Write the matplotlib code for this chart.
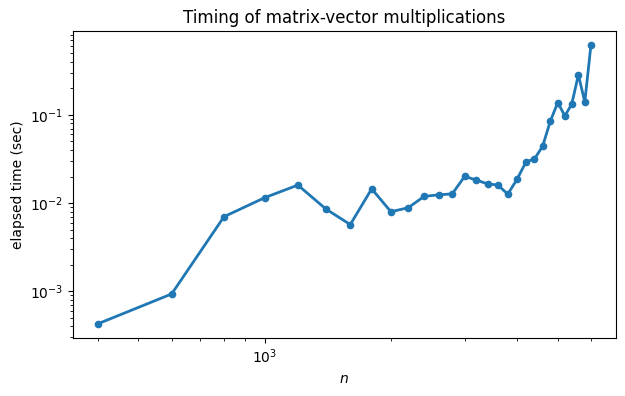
import numpy as np
import matplotlib
matplotlib.use("Agg")
import matplotlib.pyplot as plt

n = list(range(400, 6001, 200))
t = [4.26e-4, 9.3e-4, 7.0e-3, 1.15e-2, 1.6e-2, 8.55e-3, 5.7e-3,
     1.45e-2, 7.97e-3, 8.85e-3, 1.19e-2, 1.24e-2, 1.27e-2, 2.01e-2,
     1.82e-2, 1.65e-2, 1.6e-2, 1.26e-2, 1.87e-2, 2.93e-2, 3.17e-2,
     4.4e-2, 8.5e-2, 0.138, 0.0975, 0.133, 0.286, 0.140, 0.624]

fig = plt.figure(figsize=(6.25, 3.96), dpi=100)
fig.subplots_adjust(left=0.117, right=0.985, top=0.922, bottom=0.147)
ax = fig.add_subplot(111)
ax.loglog(n, t, "-o", linewidth=2, markersize=4.5)
ax.set_xlabel("$n$")
ax.set_ylabel("elapsed time (sec)")
ax.set_title("Timing of matrix-vector multiplications")

fig.savefig("out.png")
